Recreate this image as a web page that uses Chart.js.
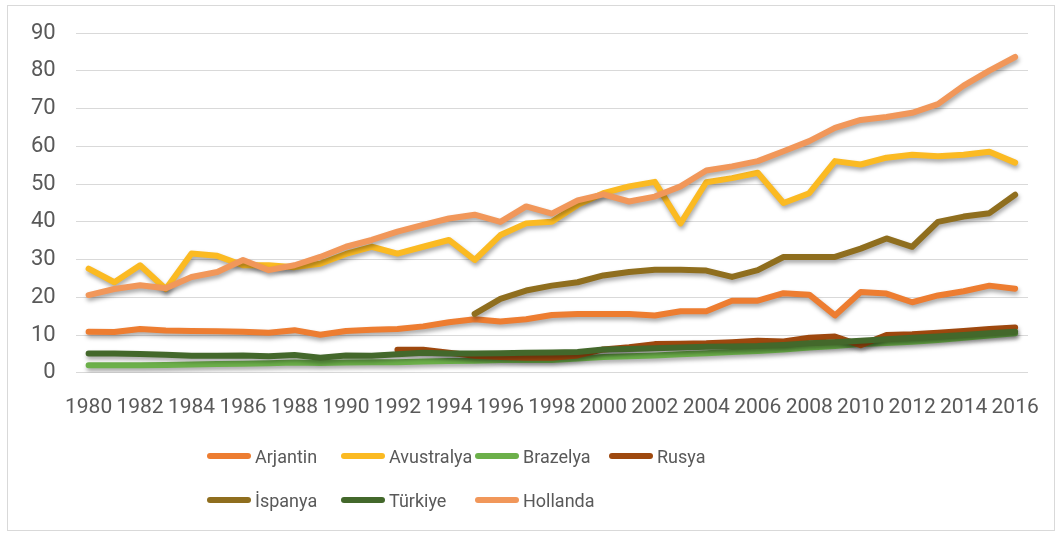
<!DOCTYPE html>
<html>
<head>
    <meta charset="utf-8">
    <title>Ülkeler 1980-2016</title>
    <script src="https://cdn.jsdelivr.net/npm/chart.js"></script>
    <style>
        body {
            margin: 0;
            padding: 0;
            background: #ffffff;
            font-family: Roboto, sans-serif;
        }
        #frame {
            position: absolute;
            left: 7px;
            top: 5px;
            width: 1046px;
            height: 524px;
            border: 1px solid #d9d9d9;
        }
        #chart-box {
            position: absolute;
            left: 0;
            top: 0;
            width: 1061px;
            height: 446px;
        }
        #legend {
            position: absolute;
            left: 207px;
            top: 434px;
            width: 560px;
            display: flex;
            flex-wrap: wrap;
        }
        .legend-item {
            width: 134px;
            height: 44px;
            display: flex;
            align-items: center;
            color: #595959;
            font-size: 18px;
            white-space: nowrap;
        }
        .legend-line {
            width: 44px;
            height: 6px;
            border-radius: 3px;
            margin-right: 4px;
            flex: none;
        }
    </style>
</head>
<body>
    <div id="frame"></div>
    <div id="chart-box"><canvas id="chart"></canvas></div>
    <div id="legend"></div>

    <script>
        const years = ['1980', '1981', '1982', '1983', '1984', '1985', '1986', '1987', '1988', '1989',
                       '1990', '1991', '1992', '1993', '1994', '1995', '1996', '1997', '1998', '1999',
                       '2000', '2001', '2002', '2003', '2004', '2005', '2006', '2007', '2008', '2009',
                       '2010', '2011', '2012', '2013', '2014', '2015', '2016'];

        const yTicks = [0, 10, 20, 30, 40, 50, 60, 70, 80, 90];

        const arjantin = [10.9, 10.8, 11.6, 11.2, 11.1, 11.0, 10.9, 10.6, 11.3, 10.1,
                          11.1, 11.4, 11.6, 12.3, 13.4, 14.2, 13.6, 14.2, 15.3, 15.6,
                          15.6, 15.6, 15.2, 16.3, 16.3, 19.1, 19.1, 21.1, 20.7, 15.2,
                          21.4, 21.0, 18.7, 20.5, 21.6, 23.1, 22.3];

        const avustralya = [27.6, 24.0, 28.5, 22.2, 31.6, 31.0, 28.5, 28.5, 28.0, 28.9,
                            31.5, 33.4, 31.6, 33.4, 35.2, 29.9, 36.5, 39.6, 40.0, 44.5,
                            47.6, 49.4, 50.6, 39.6, 50.5, 51.6, 53.0, 45.0, 47.6, 56.1,
                            55.2, 57.0, 57.8, 57.4, 57.8, 58.6, 55.7];

        const brazelya = [2.0, 2.0, 2.0, 2.1, 2.2, 2.3, 2.4, 2.5, 2.7, 2.6,
                          2.7, 2.8, 2.8, 3.0, 3.1, 3.2, 3.4, 3.4, 3.4, 3.8,
                          4.2, 4.4, 4.6, 4.9, 5.2, 5.5, 5.8, 6.2, 6.7, 7.1,
                          7.6, 7.9, 8.2, 8.7, 9.3, 9.9, 10.5];

        const rusya = [null, null, null, null, null, null, null, null, null, null,
                       null, null, 6.1, 6.1, 5.3, 4.5, 4.2, 4.0, 4.0, 4.6,
                       6.2, 6.8, 7.6, 7.7, 7.8, 8.1, 8.5, 8.3, 9.3, 9.6,
                       7.3, 10.0, 10.2, 10.6, 11.1, 11.6, 12.0];

        const ispanya = [null, null, null, null, null, null, null, null, null, null,
                         null, null, null, null, null, 15.6, 19.6, 21.8, 23.1, 24.0,
                         25.8, 26.7, 27.3, 27.3, 27.1, 25.4, 27.2, 30.7, 30.7, 30.7,
                         32.9, 35.6, 33.4, 40.0, 41.4, 42.3, 47.2];

        const turkiye = [5.1, 5.1, 5.0, 4.8, 4.5, 4.5, 4.6, 4.4, 4.7, 4.0,
                         4.6, 4.5, 4.9, 5.3, 5.1, 5.1, 5.2, 5.3, 5.4, 5.5,
                         6.2, 6.3, 6.5, 6.7, 6.9, 7.0, 7.1, 7.4, 7.8, 8.1,
                         8.5, 8.9, 9.3, 9.6, 10.0, 10.5, 10.9];

        const hollanda = [20.6, 22.2, 23.2, 22.4, 25.4, 26.7, 29.9, 27.2, 28.5, 30.7,
                          33.4, 35.2, 37.4, 39.2, 40.9, 41.9, 40.0, 44.1, 42.2, 45.7,
                          47.3, 45.4, 46.7, 49.4, 53.6, 54.7, 56.1, 58.7, 61.4, 64.9,
                          67.0, 67.8, 68.9, 71.2, 76.1, 80.1, 83.7];

        const seriesNames = ['Arjantin', 'Avustralya', 'Brazelya', 'Rusya', 'İspanya', 'Türkiye', 'Hollanda'];
        const seriesData = [arjantin, avustralya, brazelya, rusya, ispanya, turkiye, hollanda];
        const seriesColors = ['#ED7D31', '#FBBA22', '#6CB04A', '#9E480E', '#8F6E1E', '#43682B', '#F1975A'];

        // excel style drop shadow under the lines
        const lineShadow = {
            id: 'lineShadow',
            beforeDatasetsDraw(chart) {
                const ctx = chart.ctx;
                ctx.save();
                ctx.shadowColor = 'rgba(0, 0, 0, 0.35)';
                ctx.shadowBlur = 4;
                ctx.shadowOffsetX = 1;
                ctx.shadowOffsetY = 3;
            },
            afterDatasetsDraw(chart) {
                chart.ctx.restore();
            }
        };

        const datasets = seriesNames.map((name, i) => ({
            label: name,
            data: seriesData[i],
            borderColor: seriesColors[i],
            backgroundColor: seriesColors[i],
            borderWidth: 6,
            borderJoinStyle: 'round',
            borderCapStyle: 'round',
            pointRadius: 0,
            pointHoverRadius: 0,
            tension: 0,
            fill: false,
            spanGaps: false,
            order: seriesNames.length - i
        }));

        const ctx = document.getElementById('chart').getContext('2d');
        const chart = new Chart(ctx, {
            type: 'line',
            data: { labels: years, datasets: datasets },
            options: {
                responsive: true,
                maintainAspectRatio: false,
                animation: false,
                layout: {
                    padding: { left: 11, right: 33, top: 33, bottom: 12 }
                },
                plugins: {
                    legend: { display: false },
                    tooltip: { enabled: false }
                },
                scales: {
                    x: {
                        offset: true,
                        grid: { display: false },
                        border: { display: false },
                        ticks: {
                            color: '#595959',
                            font: { family: 'Roboto', size: 21 },
                            autoSkip: false,
                            maxRotation: 0,
                            minRotation: 0,
                            padding: 14,
                            callback: (val, idx) => idx % 2 === 0 ? years[idx] : ''
                        }
                    },
                    y: {
                        min: yTicks[0],
                        max: yTicks[yTicks.length - 1],
                        afterBuildTicks: axis => {
                            axis.ticks = yTicks.map(v => ({ value: v }));
                        },
                        grid: {
                            color: '#d9d9d9',
                            lineWidth: 1,
                            drawTicks: false
                        },
                        border: { display: false },
                        ticks: {
                            color: '#595959',
                            font: { family: 'Roboto', size: 22 },
                            padding: 20
                        }
                    }
                }
            },
            plugins: [lineShadow]
        });

        // legend in fixed columns like the original
        const legendHtml = chart.data.datasets.map(ds => `
            <div class="legend-item">
                <span class="legend-line" style="background:${ds.borderColor}"></span>${ds.label}
            </div>
        `).join('');
        document.getElementById('legend').innerHTML = legendHtml;
    </script>
</body>
</html>
